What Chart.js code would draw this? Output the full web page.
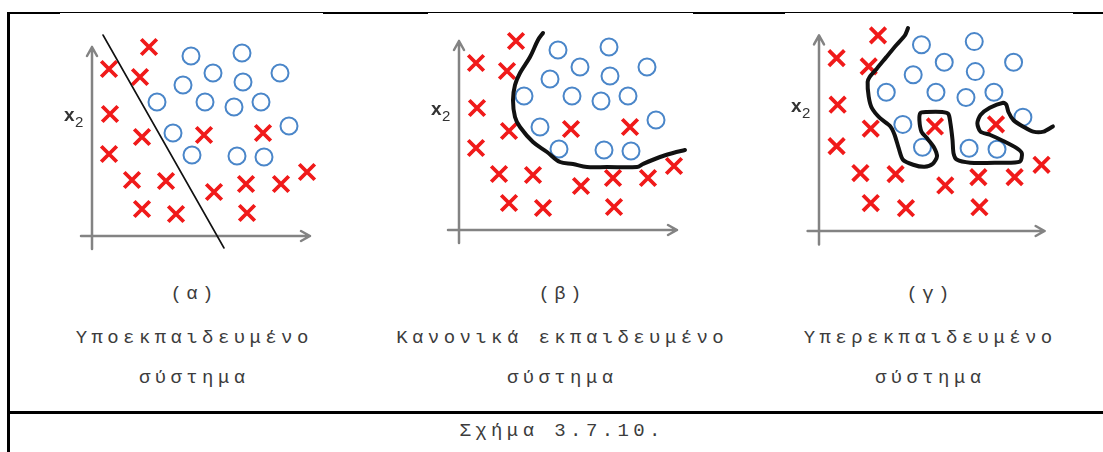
<!DOCTYPE html>
<html>
<head>
<meta charset="utf-8">
<script src="https://cdn.jsdelivr.net/npm/chart.js@4.4.1/dist/chart.umd.min.js"></script>
<style>
  body { margin:0; background:#fff; width:1103px; height:452px; overflow:hidden; position:relative; font-family:"Liberation Mono", "Courier New", monospace; }
  .rule { position:absolute; background:#000; }
  canvas { position:absolute; }
  .cap { position:absolute; width:368px; text-align:center; padding-left:4.4px; box-sizing:border-box;
         font-size:19px; line-height:19px; letter-spacing:4.4px; color:#3c3c3c; white-space:nowrap; }
</style>
</head>
<body>

<!-- πλαίσιο πίνακα -->
<div class="rule" style="left:7px;top:12px;width:1096px;height:1px"></div>
<div class="rule" style="left:7px;top:12px;width:53px;height:2px"></div>
<div class="rule" style="left:323px;top:12px;width:105px;height:2px"></div>
<div class="rule" style="left:693px;top:12px;width:92px;height:2px"></div>
<div class="rule" style="left:1073px;top:12px;width:30px;height:2px"></div>
<div class="rule" style="left:7px;top:12px;width:2.5px;height:440px"></div>
<div class="rule" style="left:7px;top:411px;width:1096px;height:2.5px"></div>

<canvas id="panelA" width="300" height="250" style="left:50px;top:15px"></canvas>
<canvas id="panelB" width="300" height="250" style="left:418px;top:10px"></canvas>
<canvas id="panelC" width="300" height="250" style="left:780px;top:10px"></canvas>

<div class="cap" style="left:8px;top:285px">(α)</div>
<div class="cap" style="left:8px;top:329px">Υποεκπαιδευμένο</div>
<div class="cap" style="left:8px;top:369px">σύστημα</div>

<div class="cap" style="left:376px;top:285px">(β)</div>
<div class="cap" style="left:376px;top:329px">Κανονικά εκπαιδευμένο</div>
<div class="cap" style="left:376px;top:369px">σύστημα</div>

<div class="cap" style="left:744px;top:285px">(γ)</div>
<div class="cap" style="left:744px;top:329px">Υπερεκπαιδευμένο</div>
<div class="cap" style="left:744px;top:369px">σύστημα</div>

<div class="cap" style="left:376px;top:422px">Σχήμα 3.7.10.</div>

<script>
// δείγματα της κλάσης "x" (κόκκινοι σταυροί) - ίδια και στα τρία διαγράμματα
const crossX = [57, 17, 48, 18, 50, 17, 40, 74, 50, 84, 112, 171, 122, 154, 189, 215, 155];
const crossY = [189, 167, 159, 122, 99, 82, 56, 55, 27, 22, 101, 103, 44, 52, 52, 64, 23];

// δείγματα της κλάσης "o" (μπλε κύκλοι)
const circleX = [99, 150, 121, 151, 188, 91, 65, 113, 142, 169, 81, 197, 100, 145, 172];
const circleY = [180, 183, 163, 154, 163, 151, 134, 134, 129, 134, 103, 110, 81, 80, 79];

// άξονες x1, x2 (αρχή και τέλος βέλους)
const axisX = [-11, 218];
const axisY = [-13, 189];

// (α) γραμμικό σύνορο
const boundAX = [11, 132];
const boundAY = [201, -12];

// (β) ομαλή καμπύλη
const boundBX = [84, 79, 71, 61, 56, 54, 56, 61, 74, 88, 101, 114, 128, 148, 178, 184, 201, 214, 226];
const boundBY = [197, 190, 173, 157, 145, 130, 113, 103, 88, 78, 68, 66, 63, 63, 63, 66, 73, 77, 80];

// (γ) σύνορο που "τυλίγει" κάθε δείγμα
const boundCX = [86, 83, 75, 65, 56, 49, 47, 48, 51, 59, 69, 73, 77, 81, 91, 102, 110, 114, 111, 104, 99, 97, 98, 104,
                 119, 125, 127, 129, 130, 133, 146, 172, 194, 196, 191, 178, 165, 156, 153, 156, 165, 178, 181, 183,
                 188, 197, 207, 217, 226];
const boundCY = [196, 189, 180, 168, 157, 149, 144, 130, 119, 109, 101, 93, 80, 69, 64, 62, 65, 72, 81, 90, 96, 107, 114, 115,
                 115, 113, 104, 88, 75, 69, 66, 66, 67, 75, 80, 87, 93, 96, 104, 112, 119, 124, 122, 115,
                 107, 101, 96, 96, 101];

const pts = (xs, ys) => xs.map((v, i) => ({x: v, y: ys[i]}));

// βέλη αξόνων και ετικέτα x2
const axesArrows = {
  id: 'axesArrows',
  beforeDatasetsDraw(chart) {
    const {ctx, scales: {x, y}} = chart;
    const x0 = x.getPixelForValue(0), y0 = y.getPixelForValue(0);
    const xa = x.getPixelForValue(axisX[0]), xb = x.getPixelForValue(axisX[1]);
    const ya = y.getPixelForValue(axisY[0]), yb = y.getPixelForValue(axisY[1]);
    ctx.save();
    ctx.strokeStyle = '#838383';
    ctx.lineWidth = 2.5;
    ctx.lineCap = 'round';
    ctx.lineJoin = 'round';
    ctx.beginPath();
    ctx.moveTo(xa, y0); ctx.lineTo(xb, y0);
    ctx.moveTo(xb - 9, y0 - 5); ctx.lineTo(xb, y0); ctx.lineTo(xb - 9, y0 + 5);
    ctx.moveTo(x0, ya); ctx.lineTo(x0, yb);
    ctx.moveTo(x0 - 5, yb + 9); ctx.lineTo(x0, yb); ctx.lineTo(x0 + 5, yb + 9);
    ctx.stroke();

    const ly = y.getPixelForValue(115);
    ctx.fillStyle = '#333';
    ctx.textBaseline = 'alphabetic';
    ctx.font = 'bold 19px "Liberation Sans", Arial, sans-serif';
    ctx.fillText('x', x0 - 28, ly);
    ctx.font = '15px "Liberation Sans", Arial, sans-serif';
    ctx.fillText('2', x0 - 17, ly + 6);
    ctx.restore();
  }
};

function drawPanel(id, origin, bx, by, lineWidth, tension) {
  const canvas = document.getElementById(id);
  const left = parseFloat(canvas.style.left), top = parseFloat(canvas.style.top);
  const s = origin.s;
  new Chart(canvas, {
    type: 'scatter',
    data: {
      datasets: [
        {
          data: pts(bx, by), showLine: true, pointRadius: 0,
          borderColor: '#111', borderWidth: lineWidth, tension: tension,
          borderCapStyle: 'round', borderJoinStyle: 'round', order: 0
        },
        {
          data: pts(circleX, circleY), pointStyle: 'circle', pointRadius: 8.5,
          borderWidth: 2, borderColor: '#4a86c9', backgroundColor: 'rgba(0,0,0,0)', order: 1
        },
        {
          data: pts(crossX, crossY), pointStyle: 'crossRot', pointRadius: 11,
          borderWidth: 3.8, borderColor: '#f01a1a', order: 2
        }
      ]
    },
    options: {
      responsive: false,
      animation: false,
      events: [],
      layout: {padding: 0, autoPadding: false},
      plugins: {legend: {display: false}, tooltip: {enabled: false}},
      scales: {
        x: {type: 'linear', display: false,
            min: (left - origin.ox) / s, max: (left + canvas.width - origin.ox) / s},
        y: {type: 'linear', display: false,
            min: (origin.oy - top - canvas.height) / s, max: (origin.oy - top) / s}
      }
    },
    plugins: [axesArrows]
  });
}

drawPanel('panelA', {ox: 92, oy: 236, s: 1}, boundAX, boundAY, 1.6, 0);
drawPanel('panelB', {ox: 459, oy: 230, s: 1}, boundBX, boundBY, 4, 0.35);
drawPanel('panelC', {ox: 819, oy: 231, s: 1.035}, boundCX, boundCY, 4, 0.25);
</script>
</body>
</html>
